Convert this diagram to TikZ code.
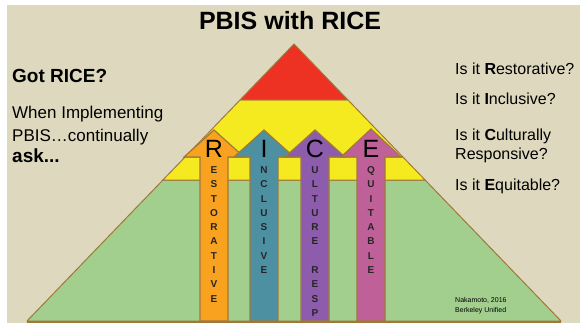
\documentclass[tikz,border=0pt]{standalone}
\usepackage{fontspec}
\setmainfont{Liberation Sans}
\usetikzlibrary{calc}

\definecolor{bgbeige}{RGB}{222,217,190}
\definecolor{pyrred}{RGB}{237,50,36}
\definecolor{pyryellow}{RGB}{245,234,32}
\definecolor{pyrgreen}{RGB}{162,206,142}
\definecolor{edgebrown}{RGB}{160,120,60}
\definecolor{arrorange}{RGB}{248,162,32}
\definecolor{arrteal}{RGB}{76,144,162}
\definecolor{arrpurple}{RGB}{142,92,172}
\definecolor{arrpink}{RGB}{192,96,152}

\tikzset{
  tier/.style={draw=edgebrown, line width=1pt, line join=round},
  ricearrow/.style={draw=edgebrown, line width=1.2pt, line join=miter},
  bigletter/.style={font=\fontsize{25}{30}\selectfont, inner sep=0pt},
  smallletter/.style={font=\bfseries\fontsize{10}{12}\selectfont, inner sep=0pt, text depth=0pt, text=black!85},
  sidetext/.style={font=\fontsize{17}{21}\selectfont, anchor=base west, inner sep=0pt},
  asktext/.style={font=\bfseries\fontsize{19}{23}\selectfont, anchor=base west, inner sep=0pt},
  question/.style={font=\fontsize{16}{19}\selectfont, anchor=base west, inner sep=0pt}
}

\begin{document}
\begin{tikzpicture}[x=1pt, y=-1pt]
% background
\fill[white] (0,0) rectangle (580,323);
\fill[bgbeige] (7,5) rectangle (580,323);
\useasboundingbox (0,0) rectangle (580,323);

% pyramid tiers
\filldraw[tier, fill=pyrgreen] (162.9,180) -- (27,321) -- (561,321) -- (425.1,180) -- cycle;
\filldraw[tier, fill=pyryellow] (185.1,157) -- (162.9,180) -- (425.1,180) -- (402.9,157) -- cycle;
\filldraw[tier, fill=pyryellow] (240,100) -- (185.1,157) -- (402.9,157) -- (348,100) -- cycle;
\filldraw[tier, fill=pyrred] (294,44) -- (240,100) -- (348,100) -- cycle;

% the four arrows
\filldraw[ricearrow, fill=arrorange] (200,321) -- (200,157) -- (184,157) -- (214,130) -- (244,157) -- (228,157) -- (228,321) -- cycle;
\filldraw[ricearrow, fill=arrteal] (250,321) -- (250,157) -- (234,157) -- (264,130) -- (294,157) -- (278,157) -- (278,321) -- cycle;
\filldraw[ricearrow, fill=arrpurple] (301,321) -- (301,157) -- (285,157) -- (315,130) -- (345,157) -- (329,157) -- (329,321) -- cycle;
\filldraw[ricearrow, fill=arrpink] (357,321) -- (357,157) -- (341,157) -- (371,129) -- (401,157) -- (385,157) -- (385,321) -- cycle;
\draw[edgebrown, line width=2pt] (27,322) -- (561,322);

% big letters
\node[bigletter] (bigR) at (214,149) {R};
\node[bigletter] (bigI) at (264,149) {I};
\node[bigletter] (bigC) at (315,149) {C};
\node[bigletter] (bigE) at (371,149) {E};

% words down the arrows
\foreach \ch [count=\k from 0] in {E,S,T,O,R,A,T,I,V,E}
  \node[smallletter] (resto\k) at (214,170+14.3*\k) {\ch};
\foreach \ch [count=\k from 0] in {N,C,L,U,S,I,V,E}
  \node[smallletter] (inclu\k) at (264,170+14.3*\k) {\ch};
\foreach \ch [count=\k from 0] in {U,L,T,U,R,E}
  \node[smallletter] (cultu\k) at (315,170+14.3*\k) {\ch};
\foreach \ch [count=\k from 7] in {R,E,S,P}
  \node[smallletter] (cultu\k) at (315,170+14.3*\k) {\ch};
\foreach \ch [count=\k from 0] in {Q,U,I,T,A,B,L,E}
  \node[smallletter] (equit\k) at (371,170+14.3*\k) {\ch};

% title
\node[font=\bfseries\fontsize{25}{30}\selectfont] (title) at (290,21) {PBIS with RICE};

% left side
\node[asktext] (gotrice) at (12,83) {Got RICE?};
\node[sidetext] (when) at (12,119) {When Implementing};
\node[sidetext] (pbis) at (12,141.5) {PBIS…continually};
\node[asktext] (ask) at (12,163) {ask...};

% right side
\node[question] (qR) at (455,75) {Is it \textbf{R}estorative?};
\node[question] (qI) at (455,105) {Is it \textbf{I}nclusive?};
\node[question] (qC) at (455,141) {Is it \textbf{C}ulturally};
\node[question] (qC2) at (455,160) {Responsive?};
\node[question] (qE) at (455,190) {Is it \textbf{E}quitable?};

% credit
\node[font=\fontsize{7}{10.5}\selectfont, align=left, anchor=west, inner sep=0pt] (credit) at (455,305.5) {Nakamoto, 2016\\Berkeley Unified};
\end{tikzpicture}
\end{document}
